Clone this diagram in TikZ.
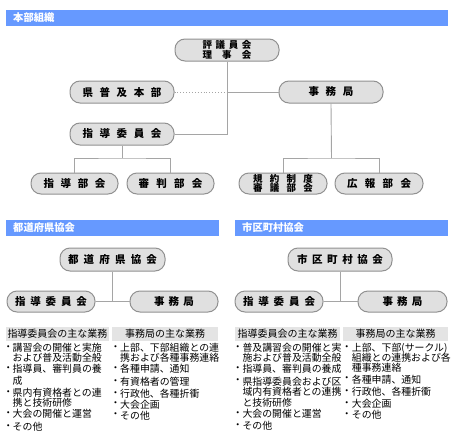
\documentclass[tikz,border=0pt]{standalone}
\usepackage{fontspec}
\setmainfont{Noto Sans CJK JP}
\definecolor{barblue}{RGB}{102,153,255}
\definecolor{pillfill}{RGB}{224,224,224}
\definecolor{pillline}{RGB}{145,145,145}
\definecolor{connc}{RGB}{165,165,165}
\definecolor{hdrgray}{RGB}{228,228,228}
\newcommand\spc[2]{\makebox[#1]{#2}}
\begin{document}
\begin{tikzpicture}[x=1pt,y=-1pt,
  bar/.style={fill=barblue,draw=none},
  bartext/.style={anchor=west,inner sep=0pt,text=white,font=\bfseries\fontsize{10.3}{10.3}\selectfont},
  pill/.style={draw=pillline,fill=pillfill,line width=1pt,rounded corners=10pt,inner sep=0pt,minimum height=22pt,font=\fontsize{10.5}{10.5}\selectfont\bfseries},
  pilltwo/.style={pill,align=center,font=\fontsize{9.5}{9.5}\selectfont\bfseries},
  conn/.style={draw=connc,line width=0.9pt},
  hdr/.style={fill=hdrgray,draw=none,inner sep=0pt,minimum height=14pt,font=\fontsize{10}{10}\selectfont},
  li/.style={anchor=west,inner sep=0pt,font=\fontsize{9.9}{9.9}\selectfont},
  bul/.style={anchor=center,inner sep=0pt,font=\fontsize{9.9}{9.9}\selectfont}]
\useasboundingbox (0,0) rectangle (455,442);
% ---------- header bars
\path[bar] (6,10) rectangle (448,26);
\node[bartext] (t1) at (13,18) {本部組織};
\path[bar] (6,220) rectangle (219,236);
\node[bartext] (t2) at (13,228) {都道府県協会};
\path[bar] (235,220) rectangle (448,236);
\node[bartext] (t3) at (242,228) {市区町村協会};
% ---------- headquarters
\node[pilltwo,minimum width=104pt] (hq) at (227,50) {\spc{49pt}{評\hfill{}議\hfill{}員\hfill{}会}\\\spc{49pt}{理\hfill{}事\hfill{}会}};
\node[pill,minimum width=104pt] (ken) at (122,92) {\spc{79pt}{県\hfill{}普\hfill{}及\hfill{}本\hfill{}部}};
\node[pill,minimum width=104pt] (jim1) at (331,92) {\spc{45pt}{事\hfill{}務\hfill{}局}};
\node[pill,minimum width=104pt] (shi1) at (122,134) {\spc{79pt}{指\hfill{}導\hfill{}委\hfill{}員\hfill{}会}};
\node[pill,minimum width=87pt,minimum height=21pt] (shib) at (74.5,183.5) {\spc{62pt}{指\hfill{}導\hfill{}部\hfill{}会}};
\node[pill,minimum width=87pt,minimum height=21pt] (shin) at (170.5,183.5) {\spc{64pt}{審\hfill{}判\hfill{}部\hfill{}会}};
\node[pilltwo,minimum width=88pt,minimum height=21pt] (kiy) at (283,183.5) {\spc{60pt}{規\hfill{}約\hfill{}制\hfill{}度}\\\spc{60pt}{審\hfill{}議\hfill{}部\hfill{}会}};
\node[pill,minimum width=88pt,minimum height=21pt] (koh) at (379,183.5) {\spc{64pt}{広\hfill{}報\hfill{}部\hfill{}会}};
\coordinate (j1) at (hq.south |- ken);
\coordinate (b1) at (122,158);
\coordinate (b2) at (331.5,158);
\draw[conn] (hq.south) |- (shi1.east);
\draw[conn,dotted] (ken.east) -- (j1);
\draw[conn] (j1) -- (jim1.west);
\draw[conn] (shi1.south) -- (b1);
\draw[conn] (shib.north) |- (b1) -| (shin.north);
\draw[conn] (jim1.south) -- (b2);
\draw[conn] (kiy.north) |- (b2) -| (koh.north);
% ---------- prefectural
\node[pill,minimum width=105pt,minimum height=23pt] (tdf) at (112.5,259.5) {\spc{89pt}{都\hfill{}道\hfill{}府\hfill{}県\hfill{}協\hfill{}会}};
\node[pill,minimum width=88pt,minimum height=21pt] (shi2) at (51,301.5) {\spc{72pt}{指\hfill{}導\hfill{}委\hfill{}員\hfill{}会}};
\node[pill,minimum width=88pt,minimum height=21pt] (jim2) at (174,301.5) {\spc{40pt}{事\hfill{}務\hfill{}局}};
\draw[conn] (tdf.south) -- (tdf.south |- shi2);
\draw[conn] (shi2.east) -- (jim2.west);
% ---------- municipal
\node[pill,minimum width=104pt,minimum height=23pt] (skc) at (340,259.5) {\spc{86pt}{市\hfill{}区\hfill{}町\hfill{}村\hfill{}協\hfill{}会}};
\node[pill,minimum width=88pt,minimum height=21pt] (shi3) at (279,301.5) {\spc{72pt}{指\hfill{}導\hfill{}委\hfill{}員\hfill{}会}};
\node[pill,minimum width=89pt,minimum height=21pt] (jim3) at (402.5,301.5) {\spc{40pt}{事\hfill{}務\hfill{}局}};
\draw[conn] (skc.south) -- (skc.south |- shi3);
\draw[conn] (shi3.east) -- (jim3.west);
% ---------- duty headers
\node[hdr,minimum width=103pt] (h1) at (57.5,334) {指導委員会の主な業務};
\node[hdr,minimum width=106pt] (h2) at (165,334) {事務局の主な業務};
\node[hdr,minimum width=105pt] (h3) at (287.5,334) {指導委員会の主な業務};
\node[hdr,minimum width=105pt] (h4) at (395.5,334) {事務局の主な業務};
% ---------- list A
\node[bul] (a1b) at (8.3,348) {・};
\node[li] (a1) at (12.5,348) {講習会の開催と実施};
\node[li] (a1c) at (12.5,357.5) {および普及活動全般};
\node[bul] (a2b) at (8.3,369) {・};
\node[li] (a2) at (12.5,369) {指導員、審判員の養};
\node[li] (a2c) at (12.5,381) {成};
\node[bul] (a3b) at (8.3,393) {・};
\node[li] (a3) at (12.5,393) {県内有資格者との連};
\node[li] (a3c) at (12.5,402.5) {携と技術研修};
\node[bul] (a4b) at (8.3,414) {・};
\node[li] (a4) at (12.5,414) {大会の開催と運営};
\node[bul] (a5b) at (8.3,427) {・};
\node[li] (a5) at (12.5,427) {その他};
% ---------- list B
\node[bul] (b1b) at (115.5,348) {・};
\node[li] (bb1) at (120,348) {上部、下部組織との連};
\node[li] (bb1c) at (120,357.5) {携および各種事務連絡};
\node[bul] (b2b) at (115.5,369) {・};
\node[li] (bb2) at (120,369) {各種申請、通知};
\node[bul] (b3b) at (115.5,382) {・};
\node[li] (bb3) at (120,382) {有資格者の管理};
\node[bul] (b4b) at (115.5,394) {・};
\node[li] (bb4) at (120,394) {行政他、各種折衝};
\node[bul] (b5b) at (115.5,404.5) {・};
\node[li] (bb5) at (120,404.5) {大会企画};
\node[bul] (b6b) at (115.5,415.5) {・};
\node[li] (bb6) at (120,415.5) {その他};
% ---------- list C
\node[bul] (c1b) at (237.8,348) {・};
\node[li] (c1) at (242.3,348) {普及講習会の開催と実};
\node[li] (c1c) at (242.3,357.5) {施および普及活動全般};
\node[bul] (c2b) at (237.8,369) {・};
\node[li] (c2) at (242.3,369) {指導員、審判員の養成};
\node[bul] (c3b) at (237.8,381.5) {・};
\node[li] (c3) at (242.3,381.5) {県指導委員会および区};
\node[li] (c3c) at (242.3,392) {域内有資格者との連携};
\node[li] (c3d) at (242.3,402.5) {と技術研修};
\node[bul] (c4b) at (237.8,414) {・};
\node[li] (c4) at (242.3,414) {大会の開催と運営};
\node[bul] (c5b) at (237.8,426) {・};
\node[li] (c5) at (242.3,426) {その他};
% ---------- list D
\node[bul] (d1b) at (346.8,348) {・};
\node[li] (d1) at (351.7,348) {上部、下部(サークル)};
\node[li] (d1c) at (351.7,357.5) {組織との連携および各};
\node[li] (d1d) at (351.7,367.5) {種事務連絡};
\node[bul] (d2b) at (346.8,379.5) {・};
\node[li] (d2) at (351.7,379.5) {各種申請、通知};
\node[bul] (d3b) at (346.8,392) {・};
\node[li] (d3) at (351.7,392) {行政他、各種折衝};
\node[bul] (d4b) at (346.8,404) {・};
\node[li] (d4) at (351.7,404) {大会企画};
\node[bul] (d5b) at (346.8,415) {・};
\node[li] (d5) at (351.7,415) {その他};
\end{tikzpicture}
\end{document}
